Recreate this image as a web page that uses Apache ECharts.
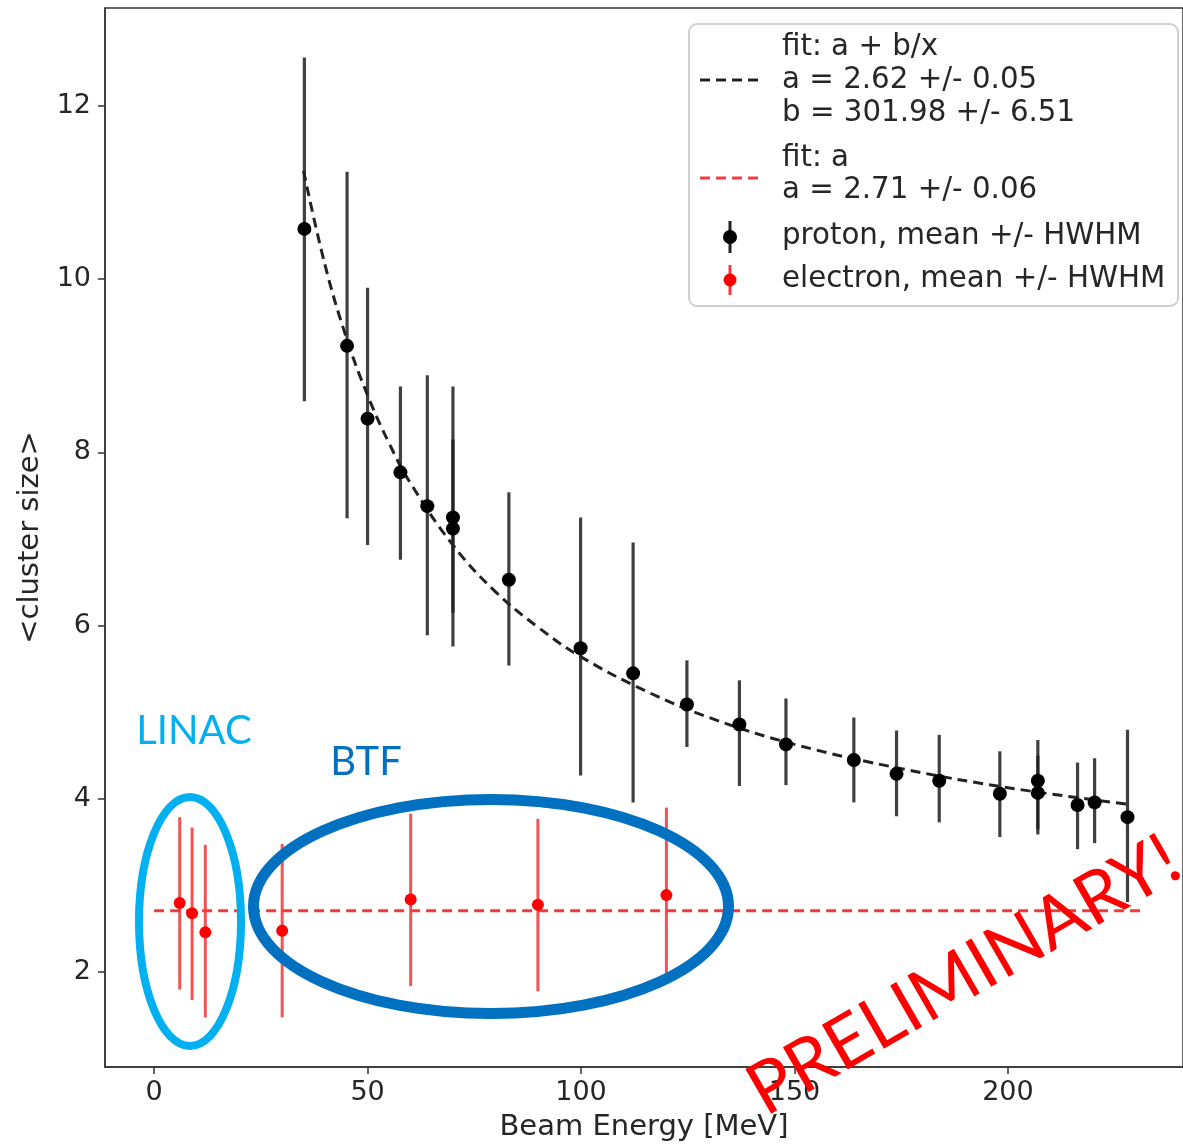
<!DOCTYPE html>
<html>
<head>
<meta charset="utf-8">
<script src="https://cdn.jsdelivr.net/npm/echarts@6/dist/echarts.min.js"></script>
<style>
html,body{margin:0;padding:0;background:#fff;}
#main{width:1183px;height:1147px;}
</style>
</head>
<body>
<div id="main"></div>
<script>
// ---- data ----
const protonEnergy = [35.2, 45.2, 50, 57.7, 64, 70, 70, 83.1, 99.9, 112.2, 124.8, 137.1, 148, 163.9, 173.9, 183.9, 198.1, 207, 207, 216.3, 220.3, 228];
const protonMean   = [10.58, 9.23, 8.39, 7.77, 7.38, 7.25, 7.12, 6.53, 5.74, 5.45, 5.09, 4.86, 4.63, 4.45, 4.29, 4.21, 4.06, 4.21, 4.07, 3.93, 3.96, 3.79];
const protonLow    = [8.59, 7.24, 6.93, 6.76, 5.89, 5.76, 6.15, 5.54, 4.27, 3.96, 4.60, 4.15, 4.16, 3.96, 3.80, 3.73, 3.56, 3.59, 3.65, 3.42, 3.49, 2.81];
const protonHigh   = [12.56, 11.24, 9.90, 8.76, 8.89, 8.76, 8.15, 7.54, 7.25, 6.96, 5.60, 5.37, 5.16, 4.94, 4.79, 4.74, 4.55, 4.68, 4.50, 4.42, 4.47, 4.80];

const electronEnergy = [6.0, 8.9, 12.0, 30.0, 60.1, 89.9, 120.0];
const electronMean   = [2.80, 2.68, 2.46, 2.48, 2.84, 2.78, 2.89];
const electronLow    = [1.80, 1.68, 1.48, 1.48, 1.84, 1.78, 1.89];
const electronHigh   = [3.79, 3.67, 3.47, 3.48, 3.83, 3.77, 3.90];

// fit curve a + b/x
const fitProtonX = [35, 40, 45, 50, 55, 60, 70, 80, 90, 100, 115, 130, 150, 175, 200, 228];
const fitProtonY = [11.25, 10.17, 9.33, 8.66, 8.11, 7.65, 6.93, 6.39, 5.98, 5.64, 5.25, 4.94, 4.63, 4.35, 4.13, 3.94];
const fitElectronX = [0, 231];
const fitElectronY = [2.71, 2.71];

const xTicks = [0, 50, 100, 150, 200];
const yTicks = [2, 4, 6, 8, 10, 12];

const legendLines = {
  proton: ['fit: a + b/x', 'a = 2.62 +/- 0.05', 'b = 301.98 +/- 6.51'],
  electronFit: ['fit: a', 'a = 2.71 +/- 0.06'],
  protonPts: 'proton, mean +/- HWHM',
  electronPts: 'electron, mean +/- HWHM'
};

// ---- chart ----
const zip = (a, b) => a.map((v, i) => [v, b[i]]);
const zip3 = (a, b, c) => a.map((v, i) => [v, b[i], c[i]]);

function errRender(color, width) {
  return function (params, api) {
    const x = api.value(0);
    const p1 = api.coord([x, api.value(1)]);
    const p2 = api.coord([x, api.value(2)]);
    return {
      type: 'line',
      shape: { x1: p1[0], y1: p1[1], x2: p2[0], y2: p2[1] },
      style: { stroke: color, lineWidth: width }
    };
  };
}

const FONT = 'DejaVu Sans';
const TXT = '#262626';

const chart = echarts.init(document.getElementById('main'));

const legendGraphics = [];
const LX = 782, LF = 29.3;
function ltext(str, y) {
  legendGraphics.push({ type: 'text', x: LX, y: y, z: 101,
    style: { text: str, font: LF + 'px "' + FONT + '"', fill: TXT, verticalAlign: 'middle' } });
}
legendGraphics.push({ type: 'rect', z: 100, shape: { x: 689, y: 24, width: 489, height: 282, r: 8 },
  style: { fill: 'rgba(255,255,255,0.85)', stroke: '#d0d0d0', lineWidth: 2 } });
ltext(legendLines.proton[0], 47);
ltext(legendLines.proton[1], 80);
ltext(legendLines.proton[2], 113);
ltext(legendLines.electronFit[0], 158);
ltext(legendLines.electronFit[1], 190);
ltext(legendLines.protonPts, 236);
ltext(legendLines.electronPts, 279);
legendGraphics.push({ type: 'line', z: 101, shape: { x1: 700, y1: 80, x2: 758, y2: 80 },
  style: { stroke: '#222', lineWidth: 3, lineDash: [10, 6] } });
legendGraphics.push({ type: 'line', z: 101, shape: { x1: 700, y1: 178, x2: 758, y2: 178 },
  style: { stroke: '#f03c3c', lineWidth: 3, lineDash: [10, 6] } });
legendGraphics.push({ type: 'line', z: 101, shape: { x1: 730, y1: 221, x2: 730, y2: 253 },
  style: { stroke: '#222', lineWidth: 3 } });
legendGraphics.push({ type: 'circle', z: 102, shape: { cx: 730, cy: 237, r: 7 }, style: { fill: '#000' } });
legendGraphics.push({ type: 'line', z: 101, shape: { x1: 730, y1: 265, x2: 730, y2: 295 },
  style: { stroke: '#f03c3c', lineWidth: 3 } });
legendGraphics.push({ type: 'circle', z: 102, shape: { cx: 730, cy: 280, r: 6.5 }, style: { fill: '#ff0000' } });

const annotations = [
  { type: 'ellipse', z: 110, shape: { cx: 190, cy: 921.5, rx: 51, ry: 124.5 },
    style: { fill: 'none', stroke: '#00B0F0', lineWidth: 8 } },
  { type: 'ellipse', z: 110, shape: { cx: 491, cy: 906.5, rx: 237.5, ry: 107 },
    style: { fill: 'none', stroke: '#0070C0', lineWidth: 11 } },
  { type: 'text', z: 111, x: 194, y: 731,
    style: { text: 'LINAC', font: '40px Lato', fill: '#00B0F0', align: 'center', verticalAlign: 'middle' } },
  { type: 'text', z: 111, x: 366, y: 762,
    style: { text: 'BTF', font: '40px Lato', fill: '#0070C0', align: 'center', verticalAlign: 'middle' } },
  { type: 'text', z: 111, x: 772, y: 1128, rotation: Math.PI / 6, originX: 0, originY: 0,
    style: { text: 'PRELIMINARY!', font: '72px Lato', fill: '#ff0000', align: 'left', verticalAlign: 'bottom' } }
];

chart.setOption({
  animation: false,
  backgroundColor: '#fff',
  grid: { left: 105, right: -6, top: 8, bottom: 79, show: true, borderColor: '#333', borderWidth: 1.5, backgroundColor: 'transparent' },
  xAxis: {
    type: 'value', min: -11.5, max: 241,
    name: 'Beam Energy [MeV]', nameLocation: 'middle', nameGap: 46,
    nameTextStyle: { fontFamily: FONT, fontSize: 29, color: TXT, verticalAlign: 'top' },
    axisLine: { show: true, onZero: false, lineStyle: { color: '#333', width: 1.5 } },
    axisTick: { show: true, length: 7, customValues: xTicks, lineStyle: { color: '#333', width: 1.5 } },
    axisLabel: { customValues: xTicks, fontFamily: FONT, fontSize: 27, color: TXT, margin: 12 },
    splitLine: { show: false }
  },
  yAxis: {
    type: 'value', min: 0.906, max: 13.13,
    name: '<cluster size>', nameLocation: 'middle', nameGap: 60, nameRotate: 90,
    nameTextStyle: { fontFamily: FONT, fontSize: 29, color: TXT },
    axisLine: { show: true, onZero: false, lineStyle: { color: '#333', width: 1.5 } },
    axisTick: { show: true, length: 7, customValues: yTicks, lineStyle: { color: '#333', width: 1.5 } },
    axisLabel: { customValues: yTicks, fontFamily: FONT, fontSize: 27, color: TXT, margin: 14 },
    splitLine: { show: false }
  },
  series: [
    { type: 'custom', name: 'electron err', renderItem: errRender('rgba(240,40,40,0.8)', 3),
      data: zip3(electronEnergy, electronLow, electronHigh), z: 2 },
    { type: 'line', name: 'fit: a', data: zip(fitElectronX, fitElectronY), showSymbol: false,
      lineStyle: { color: '#f03c3c', width: 3, type: [10, 6] }, z: 3 },
    { type: 'scatter', name: 'electron, mean +/- HWHM', data: zip(electronEnergy, electronMean),
      symbolSize: 12, itemStyle: { color: '#ff0000', opacity: 1 }, z: 4 },
    { type: 'custom', name: 'proton err', renderItem: errRender('rgba(30,30,30,0.85)', 3.2),
      data: zip3(protonEnergy, protonLow, protonHigh), z: 5 },
    { type: 'line', name: 'fit: a + b/x', data: zip(fitProtonX, fitProtonY), smooth: 0.4, showSymbol: false,
      lineStyle: { color: '#222', width: 3, type: [10, 6] }, z: 6 },
    { type: 'scatter', name: 'proton, mean +/- HWHM', data: zip(protonEnergy, protonMean),
      symbolSize: 14, itemStyle: { color: '#000', opacity: 1 }, z: 7 }
  ],
  graphic: { elements: legendGraphics.concat(annotations) }
});
</script>
</body>
</html>
